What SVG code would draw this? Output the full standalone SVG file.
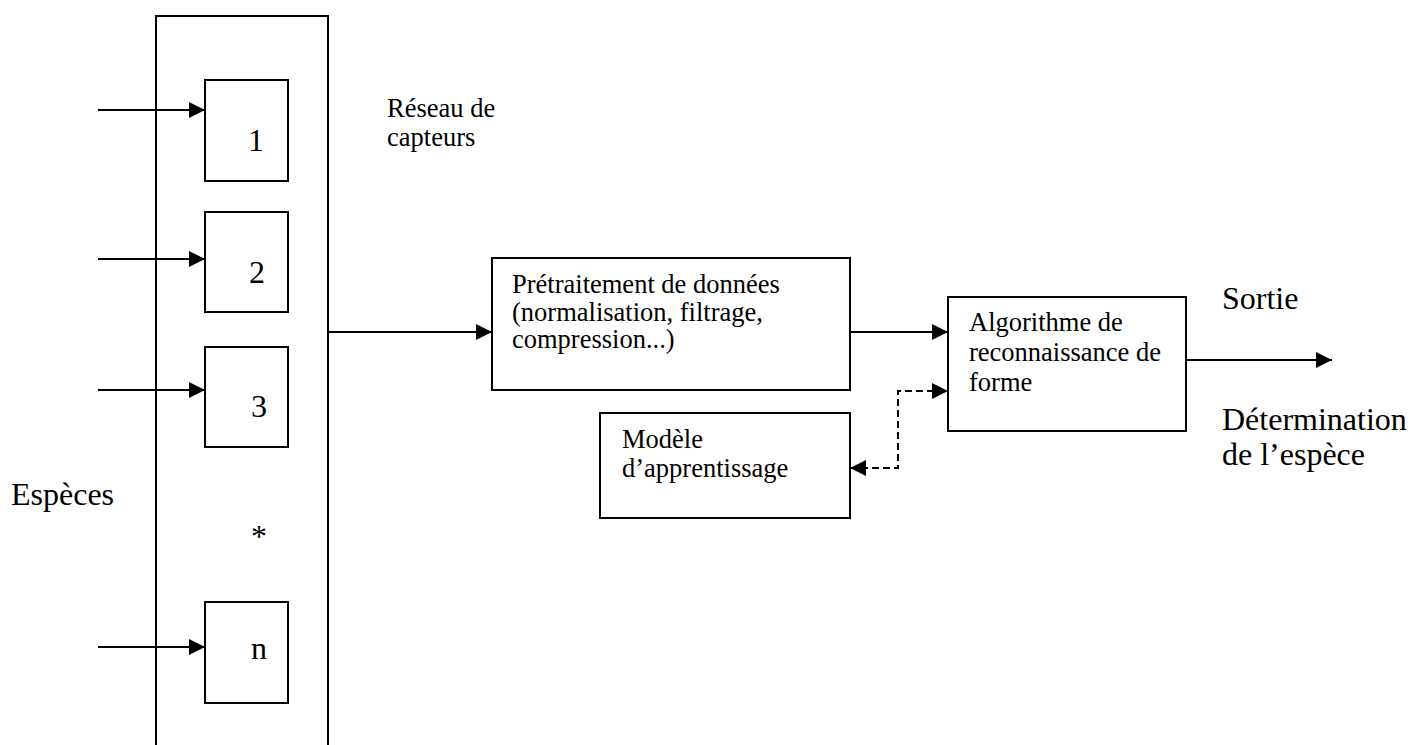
<svg xmlns="http://www.w3.org/2000/svg" width="1411" height="745" viewBox="0 0 1411 745">
  <style>
    .box { fill: none; stroke: #000; stroke-width: 2; }
    .line { fill: none; stroke: #000; stroke-width: 2; }
    .dash { fill: none; stroke: #000; stroke-width: 2; stroke-dasharray: 7 4; }
    .t { font-family: "Liberation Serif", "Times New Roman", serif; fill: #000; }
    .s { font-size: 26.5px; }
    .l { font-size: 32px; }
  </style>
  <defs>
    <marker id="arr" viewBox="0 0 16 16" refX="16" refY="8" markerWidth="16" markerHeight="16" markerUnits="userSpaceOnUse" orient="auto-start-reverse">
      <path d="M0,0 L16,8 L0,16 Z" fill="#000"/>
    </marker>
  </defs>
  <rect width="1411" height="745" fill="#fff"/>

  <g id="reseau">
    <path class="line" d="M156,745 V16 H328 V745"/>
    <text class="t s" x="387" y="117">Réseau de</text>
    <text class="t s" x="387" y="146">capteurs</text>
  </g>
  <g id="capteur1">
    <rect class="box" x="205" y="80" width="83" height="101"/>
    <text class="t l" x="256" y="151" text-anchor="middle">1</text>
  </g>
  <g id="capteur2">
    <rect class="box" x="205" y="212" width="83" height="100"/>
    <text class="t l" x="257" y="283" text-anchor="middle">2</text>
  </g>
  <g id="capteur3">
    <rect class="box" x="205" y="347" width="83" height="100"/>
    <text class="t l" x="259" y="417" text-anchor="middle">3</text>
  </g>
  <g id="etoile">
    <text class="t l" x="259" y="547" text-anchor="middle">*</text>
  </g>
  <g id="capteurN">
    <rect class="box" x="205" y="602" width="83" height="101"/>
    <text class="t l" x="259" y="659" text-anchor="middle">n</text>
  </g>
  <g id="especes">
    <text class="t l" x="11" y="505">Espèces</text>
  </g>
  <g id="pretraitement">
    <rect class="box" x="492" y="258" width="358" height="132"/>
    <text class="t s" x="512" y="293">Prétraitement de données</text>
    <text class="t s" x="512" y="321">(normalisation, filtrage,</text>
    <text class="t s" x="512" y="348">compression...)</text>
  </g>
  <g id="modele">
    <rect class="box" x="600" y="413" width="250" height="105"/>
    <text class="t s" x="622" y="448">Modèle</text>
    <text class="t s" x="622" y="477">d’apprentissage</text>
  </g>
  <g id="algorithme">
    <rect class="box" x="948" y="297" width="238" height="134"/>
    <text class="t s" x="969" y="331">Algorithme de</text>
    <text class="t s" x="969" y="361">reconnaissance de</text>
    <text class="t s" x="969" y="391">forme</text>
  </g>
  <g id="sortie">
    <text class="t l" x="1222" y="309">Sortie</text>
    <text class="t l" x="1222" y="430">Détermination</text>
    <text class="t l" x="1222" y="465">de l’espèce</text>
  </g>

  <g id="connecteurs">
    <line class="line" x1="98" y1="110" x2="205" y2="110" marker-end="url(#arr)"/>
    <line class="line" x1="98" y1="259" x2="205" y2="259" marker-end="url(#arr)"/>
    <line class="line" x1="98" y1="390" x2="205" y2="390" marker-end="url(#arr)"/>
    <line class="line" x1="98" y1="647" x2="205" y2="647" marker-end="url(#arr)"/>
    <line class="line" x1="328" y1="332" x2="492" y2="332" marker-end="url(#arr)"/>
    <line class="line" x1="850" y1="332" x2="948" y2="332" marker-end="url(#arr)"/>
    <path class="dash" d="M850,468 H898 V391 H948" marker-start="url(#arr)" marker-end="url(#arr)"/>
    <line class="line" x1="1186" y1="360" x2="1332" y2="360" marker-end="url(#arr)"/>
  </g>
</svg>
